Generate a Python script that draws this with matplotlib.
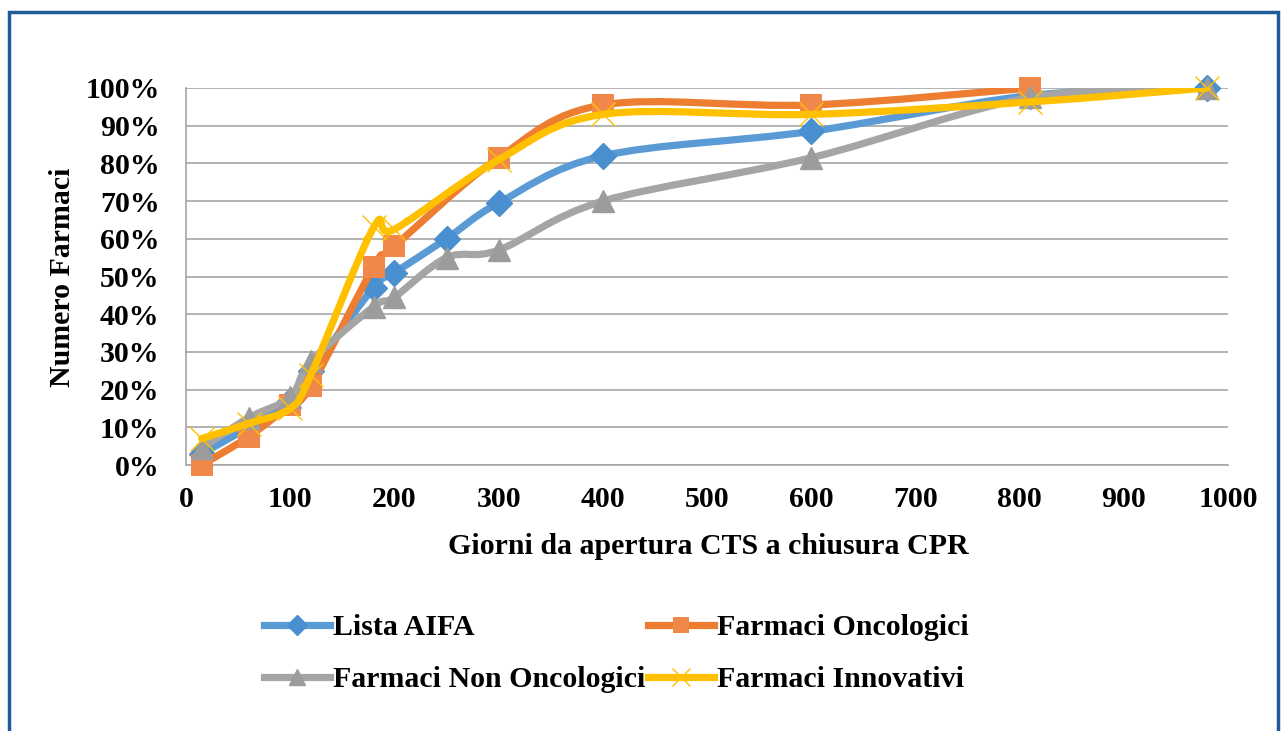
import matplotlib
matplotlib.use("Agg")
import matplotlib.pyplot as plt
from matplotlib.path import Path
from matplotlib.patches import PathPatch, Rectangle
from matplotlib.lines import Line2D

# giorni (asse x) e percentuali cumulative per ciascuna serie
x_aifa = [15, 60, 100, 120, 180, 200, 250, 300, 400, 600, 810, 980]
y_aifa = [3, 10, 17, 25, 47, 51, 60, 69.5, 82, 88.5, 98, 100]

x_onco = [15, 60, 100, 120, 180, 200, 300, 400, 600, 810]
y_onco = [0, 7.5, 16, 21, 52.5, 58, 81.5, 95.5, 95.5, 100]

x_non_onco = [15, 60, 100, 120, 180, 200, 250, 300, 400, 600, 810, 980]
y_non_onco = [4.5, 12.5, 18, 27.5, 42, 44.5, 55, 57, 70, 81.5, 97.5, 100]

x_innov = [15, 60, 100, 120, 180, 200, 300, 400, 600, 810, 980]
y_innov = [7, 11, 15, 24, 63, 62.5, 81, 93, 93, 96.3, 100]

x_ticks = [0, 100, 200, 300, 400, 500, 600, 700, 800, 900, 1000]
y_ticks = [0, 10, 20, 30, 40, 50, 60, 70, 80, 90, 100]

W, H = 1281, 731
FONT = "Liberation Serif"
FS = 21.5


def smooth_path(xs, ys):
    # curva morbida tipo Excel (Bezier con tensione 1/6)
    verts = [(xs[0], ys[0])]
    codes = [Path.MOVETO]
    n = len(xs)
    for i in range(n - 1):
        a = i - 1 if i > 0 else i
        d = i + 2 if i + 2 < n else i + 1
        c1 = (xs[i] + (xs[i + 1] - xs[a]) / 6, ys[i] + (ys[i + 1] - ys[a]) / 6)
        c2 = (xs[i + 1] - (xs[d] - xs[i]) / 6, ys[i + 1] - (ys[d] - ys[i]) / 6)
        verts += [c1, c2, (xs[i + 1], ys[i + 1])]
        codes += [Path.CURVE4] * 3
    return Path(verts, codes)


fig = plt.figure(figsize=(W / 100, H / 100), dpi=100)
ax = fig.add_axes([186 / W, 1 - 465 / H, (1228 - 186) / W, (465 - 88) / H])

series = [
    ("Lista AIFA", x_aifa, y_aifa, "#5B9BD5", "#4A8FD0", "D", 13, 1),
    ("Farmaci Oncologici", x_onco, y_onco, "#ED7D31", "#F0884A", "s", 16, 0),
    ("Farmaci Non Oncologici", x_non_onco, y_non_onco, "#A5A5A5", "#9C9C9C", "^", 16, 1),
    ("Farmaci Innovativi", x_innov, y_innov, "#FFC000", "#FFC000", "x", 17, 1),
]

handles = {}
for k, (name, xs, ys, col, mcol, mk, ms, mew) in enumerate(series):
    z = 3 + k
    patch = PathPatch(smooth_path(xs, ys), facecolor="none", edgecolor=col,
                      linewidth=5.2, capstyle="round", joinstyle="round", zorder=z)
    ax.add_patch(patch)
    ax.plot(xs, ys, linestyle="none", marker=mk, markersize=ms,
            markerfacecolor=mcol, markeredgecolor=mcol, markeredgewidth=mew,
            clip_on=False, zorder=z + 0.5)
    handles[name] = Line2D([], [], color=col, linewidth=5.2, marker=mk,
                           markersize=ms * 0.75, markerfacecolor=mcol,
                           markeredgecolor=mcol, markeredgewidth=mew)

ax.set_xlim(0, 1000)
ax.set_ylim(0, 100)
ax.set_xticks(x_ticks)
ax.set_yticks(y_ticks)
ax.set_xticklabels([str(v) for v in x_ticks])
ax.set_yticklabels([f"{v}%" for v in y_ticks])
ax.grid(axis="y", color="#A6A6A6", linewidth=1.2)
ax.set_axisbelow(True)
for s in ["top", "right"]:
    ax.spines[s].set_visible(False)
for s in ["left", "bottom"]:
    ax.spines[s].set_color("#A6A6A6")
    ax.spines[s].set_linewidth(1.2)
ax.tick_params(axis="x", length=0, pad=15)
ax.tick_params(axis="y", length=0, pad=19)
for lab in ax.get_xticklabels() + ax.get_yticklabels():
    lab.set_fontfamily(FONT)
    lab.set_fontweight("bold")
    lab.set_fontsize(FS)

fig.text(708 / W, 1 - 546 / H, "Giorni da apertura CTS a chiusura CPR",
         ha="center", va="center", fontfamily=FONT, fontweight="bold", fontsize=FS)
fig.text(62 / W, 1 - 277 / H, "Numero Farmaci", rotation=90,
         ha="center", va="center", fontfamily=FONT, fontweight="bold", fontsize=FS)

order = ["Lista AIFA", "Farmaci Non Oncologici", "Farmaci Oncologici", "Farmaci Innovativi"]
fig.legend([handles[n] for n in order], order, ncol=2, frameon=False,
           loc="upper left", bbox_to_anchor=(264 / W, 1 - 614 / H),
           borderpad=0, borderaxespad=0, handlelength=2.2, handletextpad=0.1,
           columnspacing=0.1, labelspacing=0.85,
           prop={"family": FONT, "weight": "bold", "size": FS})

# cornice blu
fig.patches.append(Rectangle((9 / W, -0.05), (1278 - 9) / W, 1.05 - 12 / H,
                             transform=fig.transFigure, fill=False,
                             edgecolor="#1F5C99", linewidth=2.5))

fig.savefig("out.png", dpi=100)
